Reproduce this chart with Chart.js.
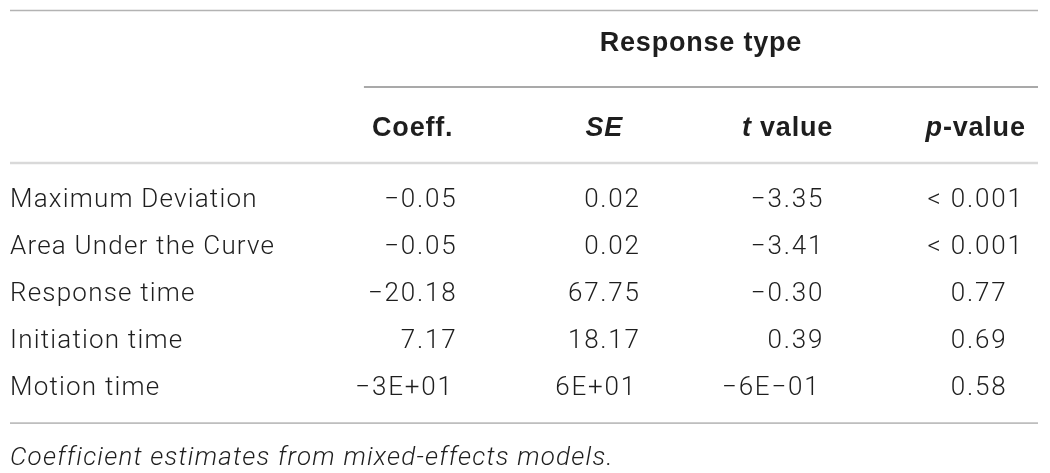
<!DOCTYPE html>
<html>
<head>
<meta charset="utf-8">
<script src="https://cdn.jsdelivr.net/npm/chart.js@4.4.1/dist/chart.umd.min.js"></script>
<style>
  html, body { margin: 0; padding: 0; background: #fff; }
  #wrap { width: 1050px; height: 473px; }
</style>
</head>
<body>
<div id="wrap"><canvas id="table"></canvas></div>
<script>
// table content
const rows = ['Maximum Deviation', 'Area Under the Curve', 'Response time', 'Initiation time', 'Motion time'];
const spanner = 'Response type';
// header cells as [text, italic] runs
const headerRuns = [
  [['Coeff.', false]],
  [['SE', true]],
  [['t', true], [' value', false]],
  [['p', true], ['-value', false]]
];
const coeff  = ['\u22120.05', '\u22120.05', '\u221220.18', '7.17', '\u22123E+01'];
const se     = ['0.02', '0.02', '67.75', '18.17', '6E+01'];
const tValue = ['\u22123.35', '\u22123.41', '\u22120.30', '0.39', '\u22126E\u221201'];
const pValue = ['< 0.001', '< 0.001', '0.77', '0.69', '0.58'];
const caption = 'Coefficient estimates from mixed-effects models.';

const columns = [coeff, se, tValue, pValue];

const FAMILY = 'Roboto, "Liberation Sans", sans-serif';
const HEAD_FAMILY = '"Liberation Sans", Arial, sans-serif';
const INK = '#1e1e1e';
const SIZE = 26;
const HEAD_SIZE = 27;
const SPACING = '1.2px';       // the source face runs a bit wider than Roboto
const CELL_SPACING = '1.8px';
const HEAD_SPACING = '0.8px';

function font(weight, italic) {
  return (italic ? 'italic ' : '') + weight + ' ' + SIZE + 'px ' + FAMILY;
}
function headFont(italic) {
  return (italic ? 'italic ' : '') + 'bold ' + HEAD_SIZE + 'px ' + HEAD_FAMILY;
}

// decimal aligned cell, x is the decimal point position; returns [left, right]
function drawCell(ctx, s, x, y, digit) {
  let cut = s.indexOf('.');
  let at = x;
  if (cut < 0) {
    cut = s.indexOf('E');
    at = x - 2 * digit;
  }
  if (cut < 0) {
    const w = ctx.measureText(s).width;
    ctx.textAlign = 'right';
    ctx.fillText(s, x, y);
    return [x - w, x];
  }
  const head = s.slice(0, cut), tail = s.slice(cut);
  const hw = ctx.measureText(head).width, tw = ctx.measureText(tail).width;
  ctx.textAlign = 'left';
  ctx.fillText(head, at - hw, y);
  ctx.fillText(tail, at, y);
  return [at - hw, at + tw];
}

function rule(ctx, x1, x2, y, w, color) {
  ctx.fillStyle = color;
  ctx.fillRect(x1, y - w / 2, x2 - x1, w);
}

const tablePlugin = {
  id: 'tableText',
  beforeDraw(chart) {
    chart.ctx.letterSpacing = SPACING;
  },
  afterDatasetsDraw(chart) {
    const ctx = chart.ctx;
    const ca = chart.chartArea;
    const left = chart.scales.y.left;
    const right = ca.right;

    ctx.save();
    ctx.textBaseline = 'middle';

    // body cells
    ctx.fillStyle = INK;
    ctx.font = font(300, false);
    ctx.letterSpacing = '0px';
    const digit = ctx.measureText('0').width;
    ctx.letterSpacing = CELL_SPACING;
    // extent of the decimal cells in each column (E-notation ones hang out)
    const extents = chart.data.datasets.map((ds, c) => {
      let lo = Infinity, hi = -Infinity;
      chart.getDatasetMeta(c).data.forEach((pt, r) => {
        const s = ds.cells[r];
        const [l, h] = drawCell(ctx, s, pt.x, pt.y, digit);
        if (s.includes('.')) {
          lo = Math.min(lo, l);
          hi = Math.max(hi, h);
        }
      });
      return [lo, hi];
    });

    // column headers, centred over each column's cells
    const headY = ca.top - 48.5;
    ctx.letterSpacing = HEAD_SPACING;
    ctx.textAlign = 'left';
    headerRuns.forEach((runs, c) => {
      const cx = (extents[c][0] + extents[c][1]) / 2;
      let total = 0;
      runs.forEach(([txt, it]) => { ctx.font = headFont(it); total += ctx.measureText(txt).width; });
      let x = cx - total / 2;
      runs.forEach(([txt, it]) => {
        ctx.font = headFont(it);
        ctx.fillText(txt, x, headY);
        x += ctx.measureText(txt).width;
      });
    });

    // spanner over the value columns
    const spanLeft = extents[0][0] - 4;
    ctx.font = headFont(false);
    ctx.textAlign = 'center';
    ctx.fillText(spanner, (spanLeft + right) / 2, ca.top - 133);

    // rules
    rule(ctx, left, right, ca.top - 166.5, 1.5, '#b3b3b3');
    rule(ctx, spanLeft, right, ca.top - 90, 2, '#a9a9a9');
    rule(ctx, left, right, ca.top - 14, 2.5, '#d9d9d9');
    rule(ctx, left, right, ca.bottom + 11.5, 1.5, '#b3b3b3');

    ctx.restore();
  }
};

new Chart(document.getElementById('table'), {
  type: 'scatter',
  data: {
    datasets: columns.map((col, c) => ({
      data: rows.map(r => ({ x: c, y: r })),
      cells: col,
      pointRadius: 0,
      pointHoverRadius: 0
    }))
  },
  options: {
    responsive: true,
    maintainAspectRatio: false,
    animation: false,
    events: [],
    layout: { padding: { left: 10, right: 12, top: 177, bottom: 0 } },
    plugins: {
      legend: { display: false },
      tooltip: { enabled: false },
      subtitle: {
        display: true,
        position: 'bottom',
        align: 'start',
        text: caption,
        color: INK,
        font: { family: FAMILY, size: SIZE, style: 'italic', weight: 300, lineHeight: 1.15 },
        padding: { top: 31.5, bottom: 0 }
      }
    },
    scales: {
      x: { type: 'linear', min: -0.7745, max: 3.387, display: false },
      y: {
        type: 'category',
        labels: rows,
        offset: true,
        grid: { display: false },
        border: { display: false },
        ticks: {
          autoSkip: false,
          crossAlign: 'far',
          padding: 0,
          color: INK,
          font: { family: FAMILY, size: SIZE, weight: 300 }
        },
        afterFit(scale) { scale.width = 265; }
      }
    }
  },
  plugins: [tablePlugin]
});
</script>
</body>
</html>
